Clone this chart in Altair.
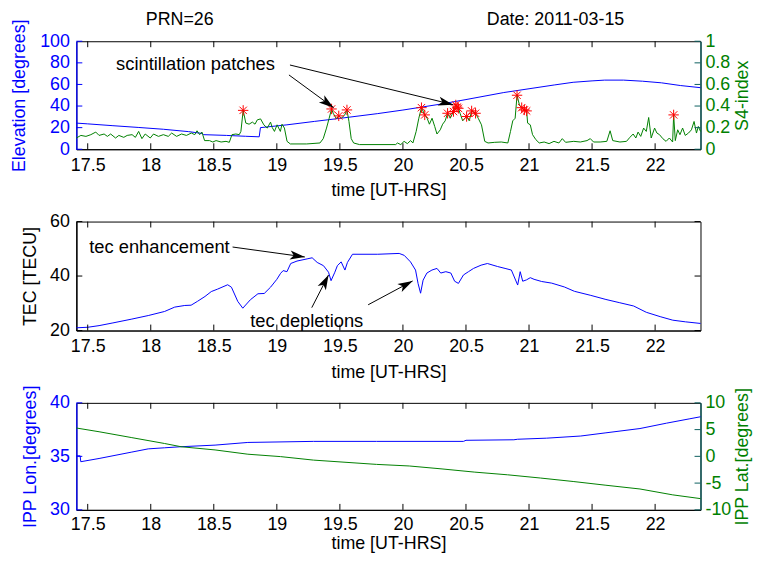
import math
import altair as alt
import pandas as pd

FONT = "Liberation Sans"
BLUE = "#0000ff"
GREEN = "#008000"
RED = "#ff0000"
TEAL = "#0c5f5f"
BLACK = "#000000"

W = 630
H1, H2, H3 = 109, 110, 108
GAP = 73
TICK = 6
FS = 18

X_DOMAIN = [17.41, 22.36]
X_TICKS = [17.5, 18, 18.5, 19, 19.5, 20, 20.5, 21, 21.5, 22]
ELEV_DOMAIN = [0, 100]
ELEV_TICKS = [0, 20, 40, 60, 80, 100]
S4_DOMAIN = [0, 1]
S4_TICKS = [0, 0.2, 0.4, 0.6, 0.8, 1]
TEC_DOMAIN = [20, 60]
TEC_TICKS = [20, 40, 60]
LON_DOMAIN = [30, 40]
LON_TICKS = [30, 35, 40]
LAT_DOMAIN = [-10, 10]
LAT_TICKS = [-10, -5, 0, 5, 10]

# ---- panel 1: elevation (left) and S4 (right) ----
elev_time = [17.41, 17.50, 17.70, 17.90, 18.10, 18.30, 18.41, 18.42, 18.60, 18.75, 18.86,
             18.87, 19.08, 19.30, 19.50, 19.80, 20.00, 20.12, 20.30, 20.50, 20.80, 21.00,
             21.20, 21.35, 21.50, 21.60, 21.75, 21.90, 22.05, 22.20, 22.36]
elev_deg = [24.2, 23.5, 21.8, 20.2, 18.5, 16.3, 14.6, 13.5, 12.8, 12.0, 11.5,
            20.0, 22.6, 25.8, 28.6, 33.0, 36.3, 38.5, 41.8, 46.0, 52.5, 56.0,
            59.5, 62.0, 63.3, 64.0, 64.0, 63.0, 61.5, 59.0, 57.0]

s4_time = [17.410, 17.446, 17.486, 17.525, 17.564, 17.590, 17.630, 17.656, 17.682, 17.721,
           17.747, 17.786, 17.813, 17.852, 17.878, 17.904, 17.930, 17.956, 17.996, 18.022,
           18.061, 18.100, 18.139, 18.166, 18.205, 18.244, 18.283, 18.322, 18.349, 18.367,
           18.388, 18.406, 18.427, 18.466, 18.492, 18.518, 18.558, 18.597, 18.623, 18.644,
           18.675, 18.702, 18.715, 18.733, 18.754, 18.780, 18.806, 18.827, 18.845, 18.871,
           18.897, 18.924, 18.950, 18.963, 18.981, 19.002, 19.028, 19.041, 19.060, 19.081,
           19.107, 19.237, 19.342, 19.368, 19.394, 19.415, 19.434, 19.447, 19.473, 19.491,
           19.512, 19.538, 19.556, 19.572, 19.590, 19.609, 19.656, 19.943, 19.956, 19.983,
           20.009, 20.035, 20.061, 20.079, 20.105, 20.126, 20.147, 20.173, 20.192, 20.210,
           20.231, 20.252, 20.270, 20.296, 20.315, 20.335, 20.354, 20.375, 20.401, 20.419,
           20.440, 20.453, 20.474, 20.505, 20.526, 20.545, 20.576, 20.597, 20.623, 20.649,
           20.675, 20.728, 20.780, 20.832, 20.853, 20.871, 20.890, 20.905, 20.924, 20.942,
           20.963, 20.981, 20.989, 21.010, 21.028, 21.054, 21.081, 21.120, 21.159, 21.198,
           21.237, 21.264, 21.290, 21.355, 21.407, 21.460, 21.486, 21.512, 21.564, 21.617,
           21.643, 21.664, 21.721, 21.773, 21.800, 21.826, 21.847, 21.865, 21.886, 21.909,
           21.930, 21.949, 21.969, 21.996, 22.014, 22.035, 22.061, 22.087, 22.113, 22.139,
           22.147, 22.160, 22.179, 22.197, 22.218, 22.239, 22.265, 22.288, 22.309, 22.328,
           22.343, 22.360]
s4_value = [0.104, 0.128, 0.119, 0.135, 0.159, 0.128, 0.141, 0.119, 0.141, 0.104,
            0.128, 0.110, 0.128, 0.135, 0.110, 0.165, 0.098, 0.141, 0.104, 0.141,
            0.119, 0.135, 0.119, 0.150, 0.119, 0.141, 0.128, 0.150, 0.135, 0.171,
            0.135, 0.159, 0.080, 0.080, 0.067, 0.080, 0.067, 0.073, 0.064, 0.135,
            0.141, 0.135, 0.165, 0.360, 0.242, 0.232, 0.251, 0.232, 0.272, 0.281,
            0.226, 0.196, 0.251, 0.202, 0.165, 0.226, 0.165, 0.232, 0.196, 0.073,
            0.049, 0.049, 0.058, 0.098, 0.196, 0.287, 0.373, 0.333, 0.281, 0.309,
            0.287, 0.318, 0.364, 0.257, 0.098, 0.058, 0.043, 0.043, 0.058, 0.043,
            0.073, 0.052, 0.080, 0.058, 0.165, 0.287, 0.385, 0.318, 0.287, 0.232,
            0.287, 0.211, 0.141, 0.180, 0.232, 0.263, 0.333, 0.287, 0.349, 0.410,
            0.379, 0.333, 0.263, 0.303, 0.263, 0.355, 0.333, 0.287, 0.226, 0.073,
            0.058, 0.064, 0.067, 0.058, 0.165, 0.263, 0.287, 0.500, 0.410, 0.385,
            0.364, 0.355, 0.242, 0.226, 0.135, 0.089, 0.058, 0.067, 0.052, 0.073,
            0.058, 0.098, 0.064, 0.073, 0.067, 0.080, 0.098, 0.067, 0.067, 0.073,
            0.171, 0.080, 0.067, 0.073, 0.110, 0.141, 0.104, 0.159, 0.119, 0.196,
            0.165, 0.294, 0.104, 0.196, 0.150, 0.135, 0.098, 0.073, 0.104, 0.067,
            0.318, 0.080, 0.180, 0.135, 0.196, 0.128, 0.150, 0.180, 0.257, 0.150,
            0.211, 0.165]

star_time = [18.733, 19.434, 19.491, 19.556, 20.147, 20.173, 20.354, 20.401, 20.419,
             20.430, 20.440, 20.505, 20.545, 20.576, 20.905, 20.942, 20.963, 20.981, 22.147]
star_s4 = [0.360, 0.373, 0.309, 0.364, 0.385, 0.318, 0.333, 0.349, 0.410,
           0.390, 0.379, 0.303, 0.355, 0.333, 0.500, 0.385, 0.364, 0.355, 0.318]

# ---- panel 2: TEC ----
tec_time = [17.41, 17.50, 17.59, 17.70, 17.85, 17.98, 18.11, 18.19, 18.27, 18.32,
            18.37, 18.43, 18.48, 18.53, 18.61, 18.64, 18.69, 18.73, 18.79, 18.85,
            18.90, 18.95, 19.00, 19.03, 19.05, 19.08, 19.11, 19.16, 19.24, 19.28,
            19.32, 19.37, 19.41, 19.43, 19.46, 19.48, 19.51, 19.54, 19.56, 19.60,
            19.80, 19.97, 20.01, 20.06, 20.10, 20.12, 20.14, 20.16, 20.19, 20.23,
            20.27, 20.30, 20.34, 20.38, 20.41, 20.44, 20.48, 20.52, 20.56, 20.62,
            20.67, 20.75, 20.81, 20.86, 20.91, 20.93, 20.95, 20.98, 21.01, 21.04,
            21.10, 21.18, 21.28, 21.36, 21.49, 21.61, 21.72, 21.83, 21.93, 22.04,
            22.14, 22.24, 22.36]
tec_value = [21.0, 21.2, 21.8, 22.8, 24.2, 25.5, 27.0, 28.6, 29.2, 29.3,
             30.7, 32.5, 34.3, 35.2, 36.8, 35.9, 30.7, 28.2, 31.3, 33.5,
             33.6, 35.9, 38.8, 41.0, 42.0, 41.6, 44.6, 45.5, 46.3, 46.7,
             45.0, 43.8, 41.4, 38.3, 41.4, 43.8, 45.2, 42.2, 45.0, 48.0,
             48.0, 48.3, 47.6, 45.2, 42.2, 37.3, 33.7, 38.5, 41.1, 42.2,
             42.8, 41.1, 41.6, 41.1, 38.1, 37.3, 40.4, 41.6, 42.8, 44.0,
             44.6, 43.5, 42.8, 42.2, 36.7, 41.6, 38.1, 38.6, 39.4, 38.8,
             38.0, 37.4, 36.0, 34.4, 32.9, 31.4, 30.2, 29.0, 26.7, 25.1,
             23.8, 23.2, 22.6]

# ---- panel 3: IPP longitude (left) and latitude (right) ----
lon_time = [17.41, 17.44, 17.445, 17.59, 17.85, 17.98, 18.11, 18.24, 18.51, 18.77,
            19.29, 19.79, 20.48, 20.50, 20.88, 20.91, 21.14, 21.41, 21.61, 21.88,
            22.09, 22.27, 22.36]
lon_deg = [35.05, 35.05, 34.5, 34.8, 35.4, 35.7, 35.8, 35.9, 36.05, 36.3,
           36.4, 36.4, 36.4, 36.5, 36.55, 36.6, 36.7, 36.9, 37.2, 37.6,
           38.1, 38.5, 38.7]
lat_time = [17.41, 17.59, 17.85, 18.11, 18.24, 18.51, 18.77, 19.03, 19.29, 19.79,
            20.05, 20.31, 20.57, 20.83, 21.09, 21.35, 21.61, 21.88, 22.14, 22.36]
lat_deg = [5.3, 4.6, 3.5, 2.4, 1.8, 1.2, 0.4, -0.05, -0.7, -1.5,
           -1.8, -2.35, -2.95, -3.45, -4.05, -4.7, -5.4, -6.1, -7.2, -7.9]

# ---- annotations (data coordinates) ----
header_time = [18.23, 21.21]
header_elev = [119.3, 119.3]
header_text = ["PRN=26", "Date: 2011-03-15"]

scint_label = {"t": 18.355, "v": 79.2, "label": "scintillation patches"}
scint_arrows = [(19.096, 68.8, 19.45, 38.5), (19.104, 78.0, 20.398, 41.3)]

tec_labels_time = [18.069, 19.237]
tec_labels_value = [50.65, 23.4]
tec_labels_text = ["tec enhancement", "tec depletions"]
tec_arrows = [(18.649, 50.65, 19.222, 47.0), (19.277, 28.4, 19.41, 40.4),
              (19.724, 29.45, 20.077, 38.2)]

ARROW = "M0,0L0.62,2L0,1.5L-0.62,2Z"
ASTER = "M-1,0L1,0M0,-1L0,1M-0.71,-0.71L0.71,0.71M-0.71,0.71L0.71,-0.71"

xs = alt.Scale(domain=X_DOMAIN, nice=False, zero=False)


def ys(domain):
    return alt.Scale(domain=domain, nice=False, zero=False)


def x_axis(title_y, label_pad):
    return alt.Axis(values=X_TICKS, title="time [UT-HRS]", labelExpr="datum.value + ''",
                    labelColor=BLACK, titleColor=BLACK, domainColor=BLACK,
                    labelPadding=label_pad, labelFlush=False, orient="bottom",
                    titleBaseline="alphabetic", titleY=title_y)


def make_X(title_y, label_pad=7.5):
    def X(field):
        return alt.X(field, type="quantitative", scale=xs, axis=x_axis(title_y, label_pad))
    return X


def xticks(H, X):
    d = pd.DataFrame({"t": X_TICKS})
    base = alt.Chart(d).mark_rule(color=BLACK, strokeWidth=1)
    return [
        base.encode(x=X("t"), y=alt.value(H), y2=alt.value(H - TICK)),
        base.encode(x=X("t"), y=alt.value(0), y2=alt.value(TICK)),
    ]


def yticks(values, domain, side, color):
    d = pd.DataFrame({"v": values})
    x0, x1 = (0, TICK) if side == "left" else (W, W - TICK)
    return alt.Chart(d).mark_rule(color=color, strokeWidth=1).encode(
        y=alt.Y("v:Q", scale=ys(domain), axis=None), x=alt.value(x0), x2=alt.value(x1))


def arrows(arr, domain, H, X):
    rows = []
    for t1, v1, t2, v2 in arr:
        dx = (t2 - t1) * W / (X_DOMAIN[1] - X_DOMAIN[0])
        dy = -(v2 - v1) * H / (domain[1] - domain[0])
        ang = math.degrees(math.atan2(dx, -dy)) % 360
        rows.append({"t1": t1, "v1": v1, "t2": t2, "v2": v2, "ang": ang})
    d = pd.DataFrame(rows)
    line = alt.Chart(d).mark_rule(color=BLACK, strokeWidth=1).encode(
        x=X("t1"), x2="t2:Q",
        y=alt.Y("v1:Q", scale=ys(domain), axis=None), y2="v2:Q")
    head = alt.Chart(d).mark_point(shape=ARROW, filled=True, color=BLACK, size=225, opacity=1).encode(
        x=X("t2"),
        y=alt.Y("v2:Q", scale=ys(domain), axis=None),
        angle=alt.Angle("ang:Q", scale=None))
    return [line, head]


def left_axis(values, title, color, pad):
    return alt.Axis(values=values, title=title, orient="left", labelExpr="datum.value + ''",
                    labelColor=color, titleColor=color, domainColor=color, domainWidth=1.3,
                    labelPadding=7, titlePadding=pad)


def right_axis(values, title):
    return alt.Axis(values=values, title=title, orient="right", labelExpr="datum.value + ''",
                    labelColor=GREEN, titleColor=GREEN, domainColor=TEAL, domainWidth=1.3,
                    labelPadding=4.5, titleAngle=270, titleBaseline="middle", titleX=42)


# ---------------- panel 1 ----------------
X1 = make_X(47)
elev_df = pd.DataFrame({"t": elev_time, "v": elev_deg})
s4_df = pd.DataFrame({"t": s4_time, "v": s4_value})
star_df = pd.DataFrame({"t": star_time, "v": star_s4})
head_df = pd.DataFrame({"t": header_time, "v": header_elev, "label": header_text})
scint_df = pd.DataFrame([scint_label])

p1_layers = [
    alt.Chart(elev_df).mark_line(color=BLUE, strokeWidth=1).encode(
        x=X1("t"),
        y=alt.Y("v:Q", scale=ys(ELEV_DOMAIN), axis=left_axis(ELEV_TICKS, "Elevation [degrees]", BLUE, 11))),
    alt.Chart(s4_df).mark_line(color=GREEN, strokeWidth=1).encode(
        x=X1("t"),
        y=alt.Y("v:Q", scale=ys(S4_DOMAIN), axis=right_axis(S4_TICKS, "S4-index"))),
    alt.Chart(star_df).mark_point(shape=ASTER, filled=False, color=RED, size=110, strokeWidth=1, opacity=1).encode(
        x=X1("t"),
        y=alt.Y("v:Q", scale=ys(S4_DOMAIN), axis=None)),
    alt.Chart(head_df).mark_text(fontSize=FS, color=BLACK, align="center", baseline="middle").encode(
        x=X1("t"),
        y=alt.Y("v:Q", scale=ys(ELEV_DOMAIN), axis=None), text="label:N"),
    alt.Chart(scint_df).mark_text(fontSize=18.5, color=BLACK, align="center", baseline="middle").encode(
        x=X1("t"),
        y=alt.Y("v:Q", scale=ys(ELEV_DOMAIN), axis=None), text="label:N"),
    *arrows(scint_arrows, ELEV_DOMAIN, H1, X1),
    *xticks(H1, X1),
    yticks(ELEV_TICKS, ELEV_DOMAIN, "left", BLUE),
    yticks(S4_TICKS, S4_DOMAIN, "right", TEAL),
]
p1 = alt.layer(*p1_layers).resolve_scale(y="independent").properties(width=W, height=H1)

# ---------------- panel 2 ----------------
X2 = make_X(47)
tec_df = pd.DataFrame({"t": tec_time, "v": tec_value})
tec_lab_df = pd.DataFrame({"t": tec_labels_time, "v": tec_labels_value, "label": tec_labels_text})
p2_layers = [
    alt.Chart(tec_df).mark_line(color=BLUE, strokeWidth=1).encode(
        x=X2("t"),
        y=alt.Y("v:Q", scale=ys(TEC_DOMAIN), axis=left_axis(TEC_TICKS, "TEC [TECU]", BLACK, 10))),
    alt.Chart(tec_lab_df).mark_text(fontSize=18.5, color=BLACK, align="center", baseline="middle").encode(
        x=X2("t"),
        y=alt.Y("v:Q", scale=ys(TEC_DOMAIN), axis=None), text="label:N"),
    *arrows(tec_arrows, TEC_DOMAIN, H2, X2),
    *xticks(H2, X2),
    yticks(TEC_TICKS, TEC_DOMAIN, "left", BLACK),
    yticks(TEC_TICKS, TEC_DOMAIN, "right", BLACK),
]
p2 = alt.layer(*p2_layers).resolve_scale(y="independent").properties(width=W, height=H2)

# ---------------- panel 3 ----------------
X3 = make_X(39.5, 5.5)
lon_df = pd.DataFrame({"t": lon_time, "v": lon_deg})
lat_df = pd.DataFrame({"t": lat_time, "v": lat_deg})
p3_layers = [
    alt.Chart(lon_df).mark_line(color=BLUE, strokeWidth=1).encode(
        x=X3("t"),
        y=alt.Y("v:Q", scale=ys(LON_DOMAIN), axis=left_axis(LON_TICKS, "IPP Lon.[degrees]", BLUE, 10))),
    alt.Chart(lat_df).mark_line(color=GREEN, strokeWidth=1).encode(
        x=X3("t"),
        y=alt.Y("v:Q", scale=ys(LAT_DOMAIN), axis=right_axis(LAT_TICKS, "IPP Lat.[degrees]"))),
    *xticks(H3, X3),
    yticks(LON_TICKS, LON_DOMAIN, "left", BLUE),
    yticks(LAT_TICKS, LAT_DOMAIN, "right", TEAL),
]
p3 = alt.layer(*p3_layers).resolve_scale(y="independent").properties(width=W, height=H3)

# page is 762x562 with an 8px margin: keep the svg within the window
# (with autosize "none" the vconcat reports width = W and height = 0)
PAD_L, PAD_T = 69, 31
PAD_R = 753 - W - PAD_L
PAD_B = 546 - PAD_T

chart = alt.vconcat(p1, p2, p3, spacing=GAP, bounds="flush").properties(
    autosize=alt.AutoSizeParams(type="none"),
    padding={"left": PAD_L, "top": PAD_T, "right": PAD_R, "bottom": PAD_B}
).configure(font=FONT).configure_axis(
    grid=False, ticks=False, tickSize=0, labelFont=FONT, titleFont=FONT,
    labelFontSize=FS, titleFontSize=FS, titleFontWeight="normal", domainWidth=1
).configure_view(stroke=BLACK, strokeWidth=1)

chart.save("out.html", embed_options={"renderer": "svg", "actions": False})
